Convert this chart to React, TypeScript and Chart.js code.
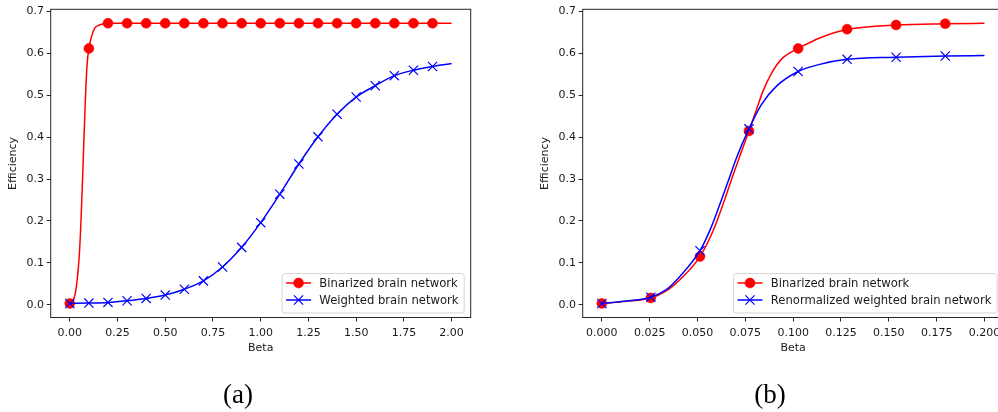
import React, { useEffect, useRef } from 'react';
import { Chart, registerables } from 'chart.js';

Chart.register(...registerables);

const FONT = "'DejaVu Sans', sans-serif";
const RED = '#ff0000';
const BLUE = '#0000ff';

// ---------- (a) left panel ----------
const leftMarkerBeta = [0.0, 0.1, 0.2, 0.3, 0.4, 0.5, 0.6, 0.7, 0.8, 0.9, 1.0, 1.1, 1.2, 1.3, 1.4, 1.5, 1.6, 1.7, 1.8, 1.9];
const leftBinMarkers = [0.003, 0.612, 0.672, 0.672, 0.672, 0.672, 0.672, 0.672, 0.672, 0.672, 0.672, 0.672, 0.672, 0.672, 0.672, 0.672, 0.672, 0.672, 0.672, 0.672];
const leftWeightedMarkers = [0.003, 0.004, 0.0055, 0.0095, 0.015, 0.023, 0.037, 0.057, 0.09, 0.137, 0.196, 0.264, 0.336, 0.401, 0.455, 0.496, 0.523, 0.547, 0.56, 0.569];

const leftBinLineBeta = [0, 0.01, 0.02, 0.03, 0.04, 0.05, 0.06, 0.07, 0.08, 0.09, 0.1, 0.115, 0.13, 0.155, 0.2, 0.3, 2.0];
const leftBinLine = [0.003, 0.006, 0.013, 0.03, 0.065, 0.12, 0.215, 0.34, 0.47, 0.57, 0.612, 0.642, 0.66, 0.668, 0.672, 0.672, 0.672];
const leftWeightedLineBeta = [0.0, 0.1, 0.2, 0.3, 0.4, 0.5, 0.6, 0.7, 0.8, 0.9, 1.0, 1.1, 1.2, 1.3, 1.4, 1.5, 1.6, 1.7, 1.8, 1.9, 2.0];
const leftWeightedLine = [0.003, 0.004, 0.0055, 0.0095, 0.015, 0.023, 0.037, 0.057, 0.09, 0.137, 0.196, 0.264, 0.336, 0.401, 0.455, 0.496, 0.523, 0.547, 0.56, 0.569, 0.576];

const leftXTicks = [0, 0.25, 0.5, 0.75, 1.0, 1.25, 1.5, 1.75, 2.0];
const leftXTickLabels = ['0.00', '0.25', '0.50', '0.75', '1.00', '1.25', '1.50', '1.75', '2.00'];

// ---------- (b) right panel ----------
const rightMarkerBeta = [0, 0.0256, 0.0513, 0.0769, 0.1026, 0.1282, 0.1538, 0.1795];
const rightBinMarkers = [0.003, 0.016, 0.115, 0.415, 0.612, 0.658, 0.668, 0.671];
const rightRenormMarkers = [0.003, 0.018, 0.129, 0.42, 0.557, 0.586, 0.591, 0.594];

const rightBinLineBeta = [0, 0.0128, 0.0256, 0.0337, 0.0424, 0.0513, 0.0581, 0.0639, 0.0686, 0.0729, 0.0769, 0.0811, 0.0845, 0.0886, 0.0915, 0.0947, 0.0985, 0.1026, 0.1139, 0.1282, 0.1538, 0.1795, 0.2];
const rightBinLine = [0.003, 0.008, 0.016, 0.033, 0.067, 0.115, 0.176, 0.247, 0.31, 0.365, 0.415, 0.47, 0.513, 0.552, 0.573, 0.59, 0.602, 0.612, 0.637, 0.657, 0.668, 0.671, 0.672];
const rightRenormLineBeta = [0, 0.0128, 0.0256, 0.0337, 0.0407, 0.0513, 0.0567, 0.0625, 0.0672, 0.0703, 0.0769, 0.0834, 0.0913, 0.1026, 0.1139, 0.1282, 0.1538, 0.1795, 0.2];
const rightRenormLine = [0.003, 0.009, 0.018, 0.036, 0.067, 0.129, 0.18, 0.25, 0.31, 0.35, 0.42, 0.478, 0.522, 0.557, 0.574, 0.586, 0.591, 0.594, 0.595];

const rightXTicks = [0, 0.025, 0.05, 0.075, 0.1, 0.125, 0.15, 0.175, 0.2];
const rightXTickLabels = ['0.000', '0.025', '0.050', '0.075', '0.100', '0.125', '0.150', '0.175', '0.200'];

// ---------- shared ----------
const yTicks = [0, 0.1, 0.2, 0.3, 0.4, 0.5, 0.6, 0.7];
const yTickLabels = ['0.0', '0.1', '0.2', '0.3', '0.4', '0.5', '0.6', '0.7'];

const seriesBinLabel = 'Binarized brain network';
const seriesWeightedLabel = 'Weighted brain network';
const seriesRenormLabel = 'Renormalized weighted brain network';

const zip = (xs: number[], ys: number[]) => xs.map((x, i) => ({ x, y: ys[i] }));

const framePlugin = {
  id: 'mplFrame',
  afterDatasetsDraw(chart: any) {
    const { ctx, chartArea } = chart;
    const { left, top, right, bottom } = chartArea;
    ctx.save();
    ctx.strokeStyle = '#262626';
    ctx.lineWidth = 1;
    ctx.strokeRect(left, top, right - left, bottom - top);
    ctx.restore();
  },
};

function drawMarker(ctx: CanvasRenderingContext2D, style: string, color: string, r: number, x: number, y: number) {
  ctx.save();
  if (style === 'circle') {
    ctx.fillStyle = color;
    ctx.strokeStyle = color;
    ctx.lineWidth = 0.5;
    ctx.beginPath();
    ctx.arc(x, y, r, 0, Math.PI * 2);
    ctx.fill();
    ctx.stroke();
  } else {
    const o = Math.cos(Math.PI / 4) * r;
    ctx.strokeStyle = color;
    ctx.lineWidth = 1.2;
    ctx.beginPath();
    ctx.moveTo(x - o, y - o);
    ctx.lineTo(x + o, y + o);
    ctx.moveTo(x - o, y + o);
    ctx.lineTo(x + o, y - o);
    ctx.stroke();
  }
  ctx.restore();
}

const legendPlugin = {
  id: 'mplLegend',
  afterDraw(chart: any, _args: any, opts: any) {
    const { ctx, chartArea } = chart;
    const items = opts.items || [];
    ctx.save();
    ctx.font = `11.6px ${FONT}`;
    const maxW = Math.max(...items.map((it: any) => ctx.measureText(it.label).width));
    const w = 4 + 25 + 8.3 + maxW + 5.7;
    const h = 39.5;
    const x1 = chartArea.right - 6.5;
    const y1 = chartArea.bottom - 4.5;
    const x0 = x1 - w;
    const y0 = y1 - h;
    ctx.beginPath();
    (ctx as any).roundRect(x0, y0, w, h, 3);
    ctx.fillStyle = 'rgba(255,255,255,0.8)';
    ctx.fill();
    ctx.strokeStyle = '#d6d6d6';
    ctx.lineWidth = 1;
    ctx.stroke();
    items.forEach((it: any, i: number) => {
      const ry = y0 + 9.5 + i * 17;
      ctx.strokeStyle = it.color;
      ctx.lineWidth = 1.5;
      ctx.beginPath();
      ctx.moveTo(x0 + 4, ry);
      ctx.lineTo(x0 + 29, ry);
      ctx.stroke();
      drawMarker(ctx, it.style, it.color, it.radius, x0 + 16.5, ry);
      ctx.fillStyle = '#1a1a1a';
      ctx.textAlign = 'left';
      ctx.textBaseline = 'middle';
      ctx.fillText(it.label, x0 + 37.3, ry + 0.5);
    });
    if (opts.caption) {
      ctx.font = `27px 'Liberation Serif', serif`;
      ctx.fillStyle = '#000';
      ctx.textAlign = 'center';
      ctx.textBaseline = 'alphabetic';
      ctx.fillText(opts.caption, opts.captionX, 403);
    }
    ctx.restore();
  },
};

function makeConfig(p: any) {
  const tickFont = { family: FONT, size: 11 };
  return {
    type: 'line',
    data: {
      datasets: [
        {
          label: p.redLabel,
          data: zip(p.redLineX, p.redLineY),
          borderColor: RED,
          borderWidth: 1.5,
          pointRadius: 0,
          cubicInterpolationMode: 'monotone',
          fill: false,
          order: 4,
        },
        {
          label: p.redLabel + ' markers',
          data: zip(p.markerX, p.redMarkers),
          showLine: false,
          pointStyle: 'circle',
          pointRadius: 5,
          pointBackgroundColor: RED,
          pointBorderColor: RED,
          pointBorderWidth: 0.5,
          order: 3,
        },
        {
          label: p.blueLabel,
          data: zip(p.blueLineX, p.blueLineY),
          borderColor: BLUE,
          borderWidth: 1.5,
          pointRadius: 0,
          cubicInterpolationMode: 'monotone',
          fill: false,
          order: 2,
        },
        {
          label: p.blueLabel + ' markers',
          data: zip(p.markerX, p.blueMarkers),
          showLine: false,
          pointStyle: 'crossRot',
          pointRadius: 6.5,
          pointBackgroundColor: BLUE,
          pointBorderColor: BLUE,
          pointBorderWidth: 1.2,
          order: 1,
        },
      ],
    },
    options: {
      responsive: false,
      animation: false,
      devicePixelRatio: 1,
      events: [],
      layout: { padding: p.padding },
      scales: {
        x: {
          type: 'linear',
          min: p.xMin,
          max: p.xMax,
          afterFit: (s: any) => { s.height = 40; },
          afterBuildTicks: (s: any) => { s.ticks = p.xTicks.map((v: number) => ({ value: v })); },
          ticks: {
            autoSkip: false,
            maxRotation: 0,
            padding: 5,
            font: tickFont,
            color: '#1a1a1a',
            callback: (_v: any, i: number) => p.xTickLabels[i],
          },
          grid: { drawOnChartArea: false, drawTicks: true, tickLength: 4, color: '#262626' },
          border: { display: false },
          title: { display: true, text: 'Beta', font: tickFont, color: '#1a1a1a', padding: { top: 0, bottom: 2.9 } },
        },
        y: {
          type: 'linear',
          min: -0.0305,
          max: 0.7055,
          afterFit: (s: any) => { s.width = 50.7; },
          afterBuildTicks: (s: any) => { s.ticks = yTicks.map((v) => ({ value: v })); },
          ticks: {
            padding: 2.7,
            font: tickFont,
            color: '#1a1a1a',
            callback: (_v: any, i: number) => yTickLabels[i],
          },
          grid: { drawOnChartArea: false, drawTicks: true, tickLength: 4, color: '#262626' },
          border: { display: false },
          title: { display: true, text: 'Efficiency', font: tickFont, color: '#1a1a1a', padding: { top: 6.7, bottom: 0 } },
        },
      },
      plugins: {
        legend: { display: false },
        tooltip: { enabled: false },
        mplLegend: {
          items: [
            { label: p.redLabel, color: RED, style: 'circle', radius: 5 },
            { label: p.blueLabel, color: BLUE, style: 'crossRot', radius: 6.5 },
          ],
          caption: p.caption,
          captionX: p.captionX,
        },
      },
    },
    plugins: [framePlugin, legendPlugin],
  };
}

export default function App() {
  const leftRef = useRef<HTMLCanvasElement>(null);
  const rightRef = useRef<HTMLCanvasElement>(null);

  useEffect(() => {
    const left = new Chart(leftRef.current as any, makeConfig({
      redLabel: seriesBinLabel,
      blueLabel: seriesWeightedLabel,
      redLineX: leftBinLineBeta,
      redLineY: leftBinLine,
      blueLineX: leftWeightedLineBeta,
      blueLineY: leftWeightedLine,
      markerX: leftMarkerBeta,
      redMarkers: leftBinMarkers,
      blueMarkers: leftWeightedMarkers,
      xMin: -0.1,
      xMax: 2.1,
      xTicks: leftXTicks,
      xTickLabels: leftXTickLabels,
      padding: { left: 0, top: 5, right: 29.3, bottom: 54.5 },
      caption: '(a)',
      captionX: 238,
    }) as any);
    const right = new Chart(rightRef.current as any, makeConfig({
      redLabel: seriesBinLabel,
      blueLabel: seriesRenormLabel,
      redLineX: rightBinLineBeta,
      redLineY: rightBinLine,
      blueLineX: rightRenormLineBeta,
      blueLineY: rightRenormLine,
      markerX: rightMarkerBeta,
      redMarkers: rightBinMarkers,
      blueMarkers: rightRenormMarkers,
      xMin: -0.01,
      xMax: 0.21,
      xTicks: rightXTicks,
      xTickLabels: rightXTickLabels,
      padding: { left: 32, top: 5, right: 16.4, bottom: 54.5 },
      caption: '(b)',
      captionX: 270,
    }) as any);
    return () => {
      left.destroy();
      right.destroy();
    };
  }, []);

  return (
    <div style={{ position: 'fixed', left: 0, top: 0, width: 998, height: 412, overflow: 'hidden', background: '#fff' }}>
      <canvas ref={leftRef} width={500} height={412} style={{ position: 'absolute', left: 0, top: 0 }} />
      <canvas ref={rightRef} width={520} height={412} style={{ position: 'absolute', left: 500, top: 0 }} />
    </div>
  );
}
